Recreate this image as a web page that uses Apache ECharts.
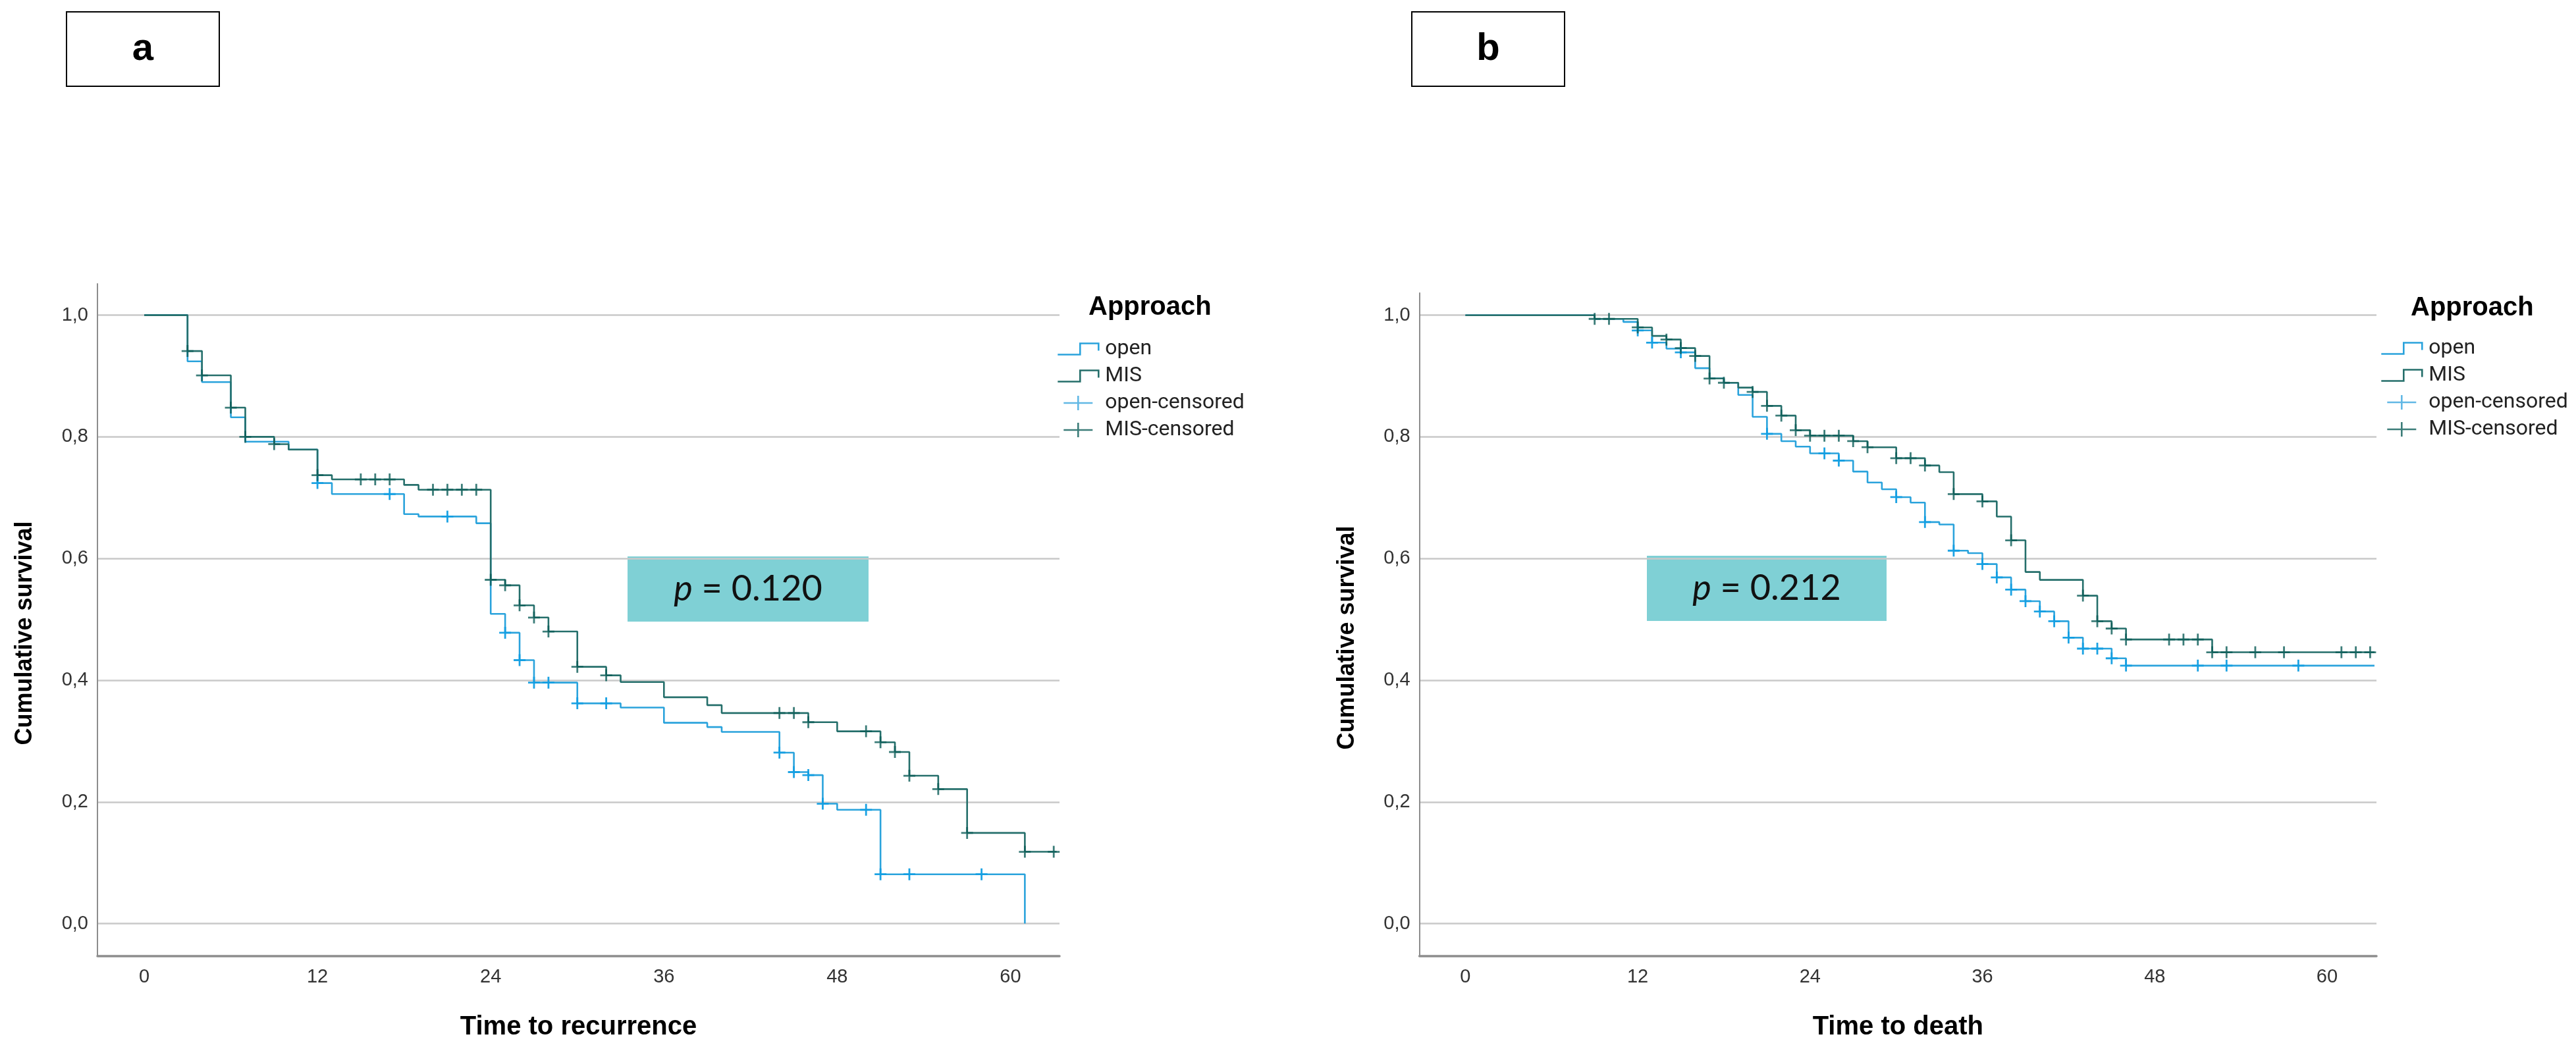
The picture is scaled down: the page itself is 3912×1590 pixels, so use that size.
<!DOCTYPE html>
<html>
<head>
<meta charset="utf-8">
<script src="https://cdn.jsdelivr.net/npm/echarts@6/dist/echarts.min.js"></script>
<style>
html,body{margin:0;padding:0;background:#fff;}
#chart{width:3912px;height:1590px;}
</style>
</head>
<body>
<div id="chart"></div>
<script>
// ---------- DATA ----------
// Panel a: Time to recurrence (months) – step times and survival after each step
const recurOpenTimes = [0,3,4,6,7,10,12,13,18,19,23,24,25,26,27,30,33,36,39,40,44,45,46,47,48,51,61];
const recurOpenSurv  = [1.000,0.924,0.890,0.832,0.792,0.779,0.724,0.706,0.673,0.669,0.658,0.509,0.478,0.433,0.396,0.362,0.355,0.330,0.323,0.315,0.281,0.249,0.244,0.197,0.187,0.081,0.000];
const recurOpenCensored = [12,17,21,25,26,27,28,30,32,44,45,46,47,50,51,53,58];

const recurMisTimes = [0,3,4,6,7,9,10,12,13,18,19,24,25,26,27,28,30,32,33,36,39,40,46,48,51,52,53,55,57,61,63.2];
const recurMisSurv  = [1.000,0.941,0.901,0.848,0.800,0.788,0.779,0.737,0.730,0.721,0.713,0.565,0.556,0.523,0.503,0.480,0.422,0.408,0.397,0.372,0.359,0.346,0.331,0.316,0.298,0.282,0.243,0.221,0.149,0.118,0.118];
const recurMisCensored = [3,4,6,7,9,12,15,16,17,20,21,22,23,24,25,26,27,28,30,32,44,45,46,50,51,52,53,55,57,61,63];

// Panel b: Time to death (months)
const deathOpenTimes = [0,9,11,12,13,14,15,16,17,18,19,20,21,22,23,24,26,27,28,29,30,31,32,33,34,35,36,37,38,39,40,41,42,43,45,46,63.3];
const deathOpenSurv  = [1.000,0.994,0.989,0.975,0.955,0.945,0.939,0.913,0.896,0.889,0.869,0.833,0.805,0.793,0.784,0.773,0.761,0.743,0.725,0.714,0.701,0.692,0.660,0.656,0.613,0.609,0.591,0.569,0.549,0.530,0.513,0.497,0.470,0.452,0.436,0.424,0.424];
const deathOpenCensored = [12,13,15,21,25,26,30,32,34,36,37,38,39,40,41,42,43,44,45,46,51,53,58];

const deathMisTimes = [0,9,12,13,14,15,16,17,18,19,20,21,22,23,24,27,28,30,32,33,34,36,37,38,39,40,43,44,45,46,52,63.3];
const deathMisSurv  = [1.000,0.994,0.980,0.966,0.960,0.946,0.933,0.896,0.889,0.881,0.874,0.851,0.835,0.811,0.802,0.793,0.783,0.765,0.753,0.742,0.706,0.694,0.669,0.630,0.578,0.565,0.539,0.497,0.485,0.467,0.446,0.446];
const deathMisCensored = [9,10,12,14,15,16,17,18,20,21,22,23,24,25,26,27,28,30,31,32,34,36,38,43,44,45,46,49,50,51,52,53,55,57,61,62,63];

const xTickValues = [0,12,24,36,48,60];
const yTickValues = [0,0.2,0.4,0.6,0.8,1.0];
const yTickLabels = ['0,0','0,2','0,4','0,6','0,8','1,0'];
const groupNames = ['open','MIS','open-censored','MIS-censored'];
const pValueA = '0.120';
const pValueB = '0.212';

// ---------- HELPERS ----------
function steps(times, surv){ return times.map((t,i)=>[t, surv[i]]); }
function survAt(times, surv, t){
  let v = surv[0];
  for (let i=0;i<times.length;i++){ if (times[i] <= t + 1e-9) v = surv[i]; }
  return v;
}
function censored(cTimes, times, surv){ return cTimes.map(t=>[t, survAt(times, surv, t)]); }

const OPEN_LINE = '#2aa3dc';
const MIS_LINE = '#256f6b';
const OPEN_CROSS = '#119ee2';
const MIS_CROSS = '#0b5c57';
const CROSS = 'path://M7.6,0H10.4V7.6H18V10.4H10.4V18H7.6V10.4H0V7.6H7.6Z';
const STEP_ICON = 'path://M0,17H34V0H62V11';
const CROSS_ICON = 'path://M0,15H60M30,0V30';

function xAxisCfg(gi, name, min, max){
  return {
    gridIndex: gi, type:'value', min:min, max:max,
    name:name, nameLocation:'middle', nameGap:88,
    nameTextStyle:{fontFamily:'Liberation Sans', fontWeight:'bold', fontSize:40, color:'#000'},
    axisLine:{show:true, onZero:false, lineStyle:{color:'#8d8d8d', width:3.5}},
    axisTick:{show:false, customValues:xTickValues},
    axisLabel:{customValues:xTickValues, fontFamily:'Liberation Sans', fontSize:29, color:'#333', margin:17},
    splitLine:{show:false}
  };
}
function yAxisCfg(gi, max){
  return {
    gridIndex: gi, type:'value', min:-0.0535, max:max,
    name:'Cumulative survival', nameLocation:'middle', nameGap:92,
    nameTextStyle:{fontFamily:'Liberation Sans', fontWeight:'bold', fontSize:36, color:'#000', padding:[0,40,0,0]},
    axisLine:{show:true, onZero:false, lineStyle:{color:'#8d8d8d', width:2}},
    axisTick:{show:false, customValues:yTickValues},
    axisLabel:{customValues:yTickValues, fontFamily:'Liberation Sans', fontSize:29, color:'#333', margin:14,
      formatter:function(v){ const i = yTickValues.findIndex(x=>Math.abs(x-v)<1e-6); return i>=0 ? yTickLabels[i] : ''; }},
    splitLine:{show:true, lineStyle:{color:'#c9c9c9', width:2.5}}
  };
}
function panelSeries(gi, oT, oS, oC, mT, mS, mC){
  return [
    {name:'open', type:'line', step:'end', xAxisIndex:gi, yAxisIndex:gi, data:steps(oT,oS), showSymbol:false,
      lineStyle:{color:OPEN_LINE, width:2.6}, itemStyle:{color:OPEN_LINE}, z:2},
    {name:'MIS', type:'line', step:'end', xAxisIndex:gi, yAxisIndex:gi, data:steps(mT,mS), showSymbol:false,
      lineStyle:{color:MIS_LINE, width:2.6}, itemStyle:{color:MIS_LINE}, z:3},
    {name:'open-censored', type:'scatter', xAxisIndex:gi, yAxisIndex:gi, data:censored(oC,oT,oS),
      symbol:CROSS, symbolSize:18, itemStyle:{color:OPEN_CROSS, opacity:0.95}, z:4},
    {name:'MIS-censored', type:'scatter', xAxisIndex:gi, yAxisIndex:gi, data:censored(mC,mT,mS),
      symbol:CROSS, symbolSize:18, itemStyle:{color:MIS_CROSS}, z:5}
  ];
}
function legendCfg(left, top){
  return {
    orient:'vertical', left:left, top:top, itemWidth:62, itemHeight:22, itemGap:0, padding:0,
    selectedMode:false,
    textStyle:{fontFamily:'Roboto', fontSize:32, color:'#222', lineHeight:41, padding:[0,0,0,5]},
    data:[
      {name:groupNames[0], icon:STEP_ICON, itemStyle:{color:'rgba(0,0,0,0)', borderColor:OPEN_LINE, borderWidth:2.6}},
      {name:groupNames[1], icon:STEP_ICON, itemStyle:{color:'rgba(0,0,0,0)', borderColor:MIS_LINE, borderWidth:2.6}},
      {name:groupNames[2], icon:CROSS_ICON, itemStyle:{color:'rgba(0,0,0,0)', borderColor:'#5ab4e4', borderWidth:2.6}},
      {name:groupNames[3], icon:CROSS_ICON, itemStyle:{color:'rgba(0,0,0,0)', borderColor:MIS_CROSS, borderWidth:2.6}}
    ]
  };
}
function letterBox(left, letter){
  return {type:'group', left:left, top:17, children:[
    {type:'rect', shape:{x:0,y:0,width:232,height:113}, style:{fill:'#fff', stroke:'#000', lineWidth:2}},
    {type:'text', x:116, y:57, style:{text:letter, fontFamily:'Liberation Sans', fontWeight:'bold', fontSize:58, fill:'#000', align:'center', verticalAlign:'middle'}}
  ]};
}
function pBox(left, top, w, h, val){
  return {type:'group', left:left, top:top, children:[
    {type:'rect', shape:{x:0,y:0,width:w,height:h}, style:{fill:'#7fd0d5'}},
    {type:'text', x:w/2, y:h/2, style:{text:'{i|p} = '+val, rich:{i:{fontStyle:'italic', fontFamily:'Lato', fontSize:54, fill:'#111'}},
      fontFamily:'Lato', fontSize:54, fill:'#111', align:'center', verticalAlign:'middle'}}
  ]};
}

const chart = echarts.init(document.getElementById('chart'), null, {renderer:'canvas'});
chart.setOption({
  backgroundColor:'#fff',
  animation:false,
  title:[
    {text:'Approach', left:1653, top:447, padding:0, textStyle:{fontFamily:'Liberation Sans', fontWeight:'bold', fontSize:40, lineHeight:40, color:'#000'}},
    {text:'Approach', left:3661, top:448, padding:0, textStyle:{fontFamily:'Liberation Sans', fontWeight:'bold', fontSize:40, lineHeight:40, color:'#000'}}
  ],
  legend:[ legendCfg(1605, 509.5), legendCfg(3615, 508.5) ],
  grid:[
    {left:148, top:431, width:1461, height:1021, containLabel:false},
    {left:2155.6, top:445, width:1453.4, height:1007, containLabel:false}
  ],
  xAxis:[ xAxisCfg(0,'Time to recurrence',-3.24,63.4), xAxisCfg(1,'Time to death',-3.2,63.44) ],
  yAxis:[ yAxisCfg(0,1.0515), yAxisCfg(1,1.0365) ],
  series:[].concat(
    panelSeries(0, recurOpenTimes, recurOpenSurv, recurOpenCensored, recurMisTimes, recurMisSurv, recurMisCensored),
    panelSeries(1, deathOpenTimes, deathOpenSurv, deathOpenCensored, deathMisTimes, deathMisSurv, deathMisCensored)
  ),
  graphic:[
    letterBox(100,'a'),
    letterBox(2143,'b'),
    pBox(953, 845, 366, 99, pValueA),
    pBox(2501, 844, 364, 99, pValueB)
  ]
});
</script>
</body>
</html>
